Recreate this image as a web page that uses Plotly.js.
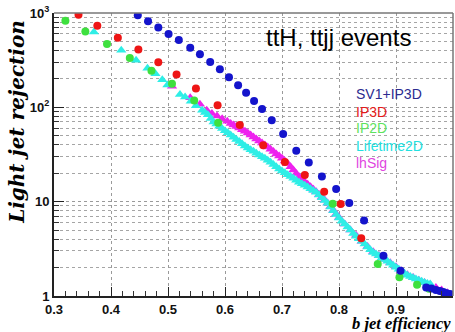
<!DOCTYPE html>
<html>
<head>
<meta charset="utf-8">
<script src="https://cdn.plot.ly/plotly-3.0.1.min.js"></script>
<style>html,body{margin:0;padding:0;background:#fff;}#chart{width:455px;height:332px;}</style>
</head>
<body>
<div id="chart"></div>
<script>
// SV1+IP3D (blue circles)
var sv1X = [0.447,0.465,0.483,0.501,0.519,0.539,0.556,0.574,0.591,0.607,0.623,0.637,0.651,0.665,0.682,0.702,0.725,0.747,0.770,0.795,0.818,0.844,0.878,0.908,0.953,0.962,0.970,0.977,0.983,0.989,0.995,1.0];
var sv1Y = [945,816,701,598,516,428,366,303,254,208,171,143,117,96,73,52,34.6,26,18.5,13.6,9.7,6.3,2.67,1.85,1.23,1.2,1.16,1.13,1.10,1.07,1.05,1.02];
// IP3D (red circles)
var ip3dX = [0.343,0.376,0.412,0.448,0.483,0.515,0.549,0.587,0.626,0.667,0.705,0.740,0.774,0.803,0.839];
var ip3dY = [959,733,546,411,301,223,158,105,64.8,39.7,26.4,19.2,12.7,9.45,4.09];
// IP2D (green circles)
var ip2dX = [0.320,0.355,0.393,0.433,0.471,0.507,0.546,0.588,0.789,0.868,0.906,0.937,0.958];
var ip2dY = [828,636,470,334,244,178,118,68.7,9.5,2.18,1.58,1.32,1.19];
// Lifetime2D (cyan triangles)
var lifeX = [0.370,0.418,0.444,0.464,0.478,0.490,0.499,0.521,0.530,0.540,0.549,
  0.56,0.565,0.57,0.575,0.58,0.585,0.59,0.595,0.60,0.605,0.61,0.615,0.62,0.625,0.63,0.635,0.64,0.645,0.65,0.655,0.66,0.665,0.67,0.675,0.68,0.685,0.69,0.695,0.70,0.705,0.71,0.715,0.72,0.725,0.73,0.735,0.74,0.745,0.75,0.755,
  0.76,0.765,0.77,0.775,0.78,0.785,0.79,0.795,0.80,0.805,0.81,0.815,0.82,0.825,0.83,0.835,0.84,0.845,0.85,0.855,0.86,0.865,0.87,0.875,0.88,0.885,0.89,0.895,0.90,0.905,0.91,0.915,0.92,0.925,0.93,0.935,0.94,0.945,0.95,0.955,0.96];
var lifeY = [628,404,316,260,227,196,173,137,129,116,104,
  93.3,88,83.2,76,70.1,66.5,63.1,59.8,56.6,53.7,50.9,48.2,45.7,43.3,41.1,39.0,37.1,35.6,34.2,32.7,31.3,30.0,28.8,27.4,26.1,24.7,23.4,22.2,21.1,20.2,19.3,18.5,17.7,16.9,16.1,15.5,14.9,14.3,13.7,13.1,
  12.6,11.8,11.0,10.3,9.6,8.8,8.0,7.3,6.7,6.2,5.8,5.4,5.0,4.6,4.3,4.05,3.8,3.55,3.3,3.1,2.9,2.78,2.67,2.55,2.44,2.33,2.23,2.12,2.02,1.92,1.83,1.74,1.66,1.61,1.56,1.51,1.47,1.43,1.39,1.36,1.34];
// lhSig (magenta triangles)
var lhX = [0.507,0.539,0.556,0.568,0.577,0.586,0.595,0.604,
  0.61,0.615,0.62,0.625,0.63,0.635,0.64,0.645,0.65,0.655,0.66,0.665,0.67,0.675,0.68,0.685,0.69,0.695,0.70,0.705,0.71,0.715,0.72,0.725,0.73,0.735,0.74,0.745,0.75,0.755,0.76,0.765,0.77,0.775,0.78,0.785,0.79,0.795,0.80,
  0.81,0.82,0.83,0.84,0.85,0.86,0.87,0.88,0.89,0.90,0.91,0.92,0.93,0.94,0.95,0.96,0.97,0.98,0.99,1.00];
var lhY = [167,126,108,93,86,81,75.5,71,
  67.5,65,62.5,60.2,57.9,55.7,53.5,51,48.5,46.2,44.0,41.9,39.9,37.9,36.0,34,32.1,30.4,28.8,27,25.4,23.4,21.6,19.9,18.4,17.3,16.2,15.3,14.4,13.5,12.7,11.9,11.2,10.4,9.7,8.9,8.1,7.4,6.8,
  5.8,5.0,4.4,3.8,3.35,2.95,2.69,2.45,2.25,2.04,1.85,1.68,1.57,1.47,1.39,1.32,1.23,1.16,1.08,1.02];

var yTickVals = [1,10,100,1000];
var yTickText = ['1','10','10<sup>2</sup>','10<sup>3</sup>'];
var xTickVals = [0.3,0.4,0.5,0.6,0.7,0.8,0.9,1.0];
var xTickText = ['0.3','0.4','0.5','0.6','0.7','0.8','0.9','1'];
var yMinorVals = [2,3,4,5,6,7,8,9,20,30,40,50,60,70,80,90,200,300,400,500,600,700,800,900];

var legendNames = ['SV1+IP3D','IP3D','IP2D','Lifetime2D','lhSig'];
var legendColors = ['#2b2b8f','#e51a1a','#5fe35f','#22e0e0','#e045e0'];

var cBlue = '#1414cc', cRed = '#ee1515', cGreen = '#3ee03e', cCyan = '#2eeee6', cMag = '#ee22ee';

function tr(x, y, color, sym, size) {
  return {x: x, y: y, type: 'scatter', mode: 'markers', showlegend: false, hoverinfo: 'skip',
    marker: {color: color, symbol: sym, size: size, line: {width: 0}}};
}
var data = [
  tr(lhX, lhY, cMag, 'triangle-up', 9),
  tr(lifeX, lifeY, cCyan, 'triangle-up', 9),
  tr(ip2dX, ip2dY, cGreen, 'circle', 8),
  tr(ip3dX, ip3dY, cRed, 'circle', 8),
  tr(sv1X, sv1Y, cBlue, 'circle', 8)
];

var annotations = [];
var legY = [0.714, 0.650, 0.594, 0.530, 0.470];
for (var i = 0; i < legendNames.length; i++) {
  annotations.push({xref: 'paper', yref: 'paper', x: 0.752, y: legY[i], xanchor: 'left', yanchor: 'middle',
    showarrow: false, text: legendNames[i], font: {family: 'Liberation Sans, Arial, sans-serif', size: 14, color: legendColors[i]}});
}
annotations.push({xref: 'paper', yref: 'paper', x: 0.713, y: 0.915, xanchor: 'center', yanchor: 'middle',
  showarrow: false, text: 'ttH, ttjj events', font: {family: 'Liberation Sans, Arial, sans-serif', size: 24, color: '#000'}});
annotations.push({xref: 'paper', yref: 'paper', x: 0.998, y: -0.097, xanchor: 'right', yanchor: 'middle', borderpad: 0,
  showarrow: false, text: '<b><i>b jet efficiency</i></b>', font: {family: 'Liberation Serif, Times New Roman, serif', size: 16.5, color: '#000'}});
annotations.push({xref: 'paper', yref: 'paper', x: -0.093, y: 0.615, xanchor: 'center', yanchor: 'middle', textangle: -90,
  showarrow: false, text: '<b><i>Light jet rejection</i></b>', font: {family: 'DejaVu Serif, serif', size: 20, color: '#000'}});

var layout = {
  width: 455, height: 332,
  margin: {l: 54, r: 2, t: 13, b: 36},
  paper_bgcolor: '#fff', plot_bgcolor: '#fff',
  showlegend: false,
  xaxis: {
    range: [0.3, 1.0], tickmode: 'array', tickvals: xTickVals, ticktext: xTickText,
    ticks: 'inside', ticklen: 9, tickwidth: 1, tickcolor: '#222',
    showgrid: true, gridcolor: '#9a9a9a', griddash: 'dot', gridwidth: 1,
    showline: true, linecolor: '#222', linewidth: 2, zeroline: false,
    tickfont: {family: 'Liberation Sans, Arial, sans-serif', size: 13, color: '#111', weight: 'bold'},
    minor: {dtick: 0.02, tick0: 0.3, ticks: 'inside', ticklen: 5, tickcolor: '#333', showgrid: false}
  },
  yaxis: {
    type: 'log', range: [0, 3], tickmode: 'array', tickvals: yTickVals, ticktext: yTickText,
    ticks: 'inside', ticklen: 10, tickwidth: 1, tickcolor: '#222',
    showgrid: true, gridcolor: '#9a9a9a', griddash: 'dot', gridwidth: 1,
    showline: true, linecolor: '#222', linewidth: 2, zeroline: false,
    tickfont: {family: 'Liberation Sans, Arial, sans-serif', size: 13, color: '#111', weight: 'bold'},
    minor: {tickmode: 'array', tickvals: yMinorVals, ticks: 'inside', ticklen: 5, tickcolor: '#333',
      showgrid: true, gridcolor: '#a5a5a5', griddash: 'dot', gridwidth: 1}
  },
  shapes: [
    {type: 'rect', xref: 'paper', yref: 'paper', x0: 0.742, x1: 0.947, y0: 0.438, y1: 0.756,
      fillcolor: '#fff', line: {width: 0}, layer: 'between'},
    {type: 'line', xref: 'paper', yref: 'paper', x0: 0, x1: 1, y0: 1, y1: 1, line: {color: '#777', width: 1.5}},
    {type: 'line', xref: 'paper', yref: 'paper', x0: 1, x1: 1, y0: 0, y1: 1, line: {color: '#777', width: 1.5}}
  ],
  annotations: annotations
};

Plotly.newPlot('chart', data, layout, {staticPlot: true, displayModeBar: false});
</script>
</body>
</html>
